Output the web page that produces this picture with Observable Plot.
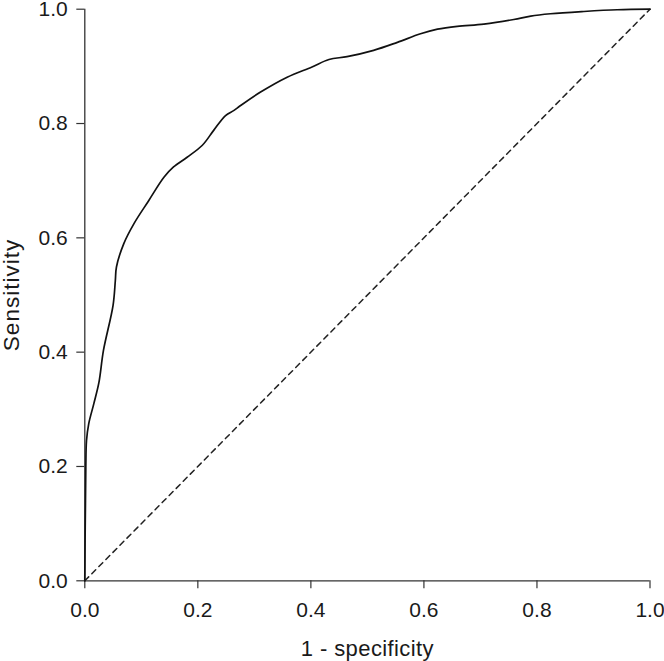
<!DOCTYPE html>
<html>
<head>
<meta charset="utf-8">
<script src="https://cdn.jsdelivr.net/npm/d3@7"></script>
<script src="https://cdn.jsdelivr.net/npm/@observablehq/plot@0.6"></script>
<style>
  html, body { margin: 0; padding: 0; background: #fff; }
  #chart svg { display: block; overflow: visible; }
  #chart g[aria-label="x-axis label"] text { font-size: 22px; letter-spacing: 0.4px; }
  #chart g[aria-label="y-axis label"] text { font-size: 22.5px; letter-spacing: 1px; }
</style>
</head>
<body>
<div id="chart"></div>
<script>
// ROC curve: 1 - specificity (x) vs sensitivity (y)
const fpr = [0, 0.0005, 0.0012, 0.0018, 0.003, 0.007, 0.016, 0.025, 0.033, 0.050, 0.054, 0.056,
  0.069, 0.087, 0.113, 0.140, 0.157, 0.181, 0.208, 0.228, 0.249, 0.264, 0.275, 0.311, 0.358,
  0.402, 0.432, 0.464, 0.511, 0.553, 0.594, 0.624, 0.659, 0.706, 0.759, 0.789, 0.824, 0.883,
  0.942, 1.0];
const tpr = [0, 0.07, 0.14, 0.199, 0.245, 0.275, 0.310, 0.347, 0.403, 0.482, 0.525, 0.549,
  0.590, 0.625, 0.665, 0.706, 0.724, 0.741, 0.762, 0.788, 0.814, 0.823, 0.831, 0.855, 0.881,
  0.899, 0.912, 0.917, 0.928, 0.942, 0.957, 0.965, 0.970, 0.974, 0.982, 0.988, 0.992, 0.996,
  0.999, 1.0];
const diagX = [0, 1];
const diagY = [0, 1];
const tickValues = [0, 0.2, 0.4, 0.6, 0.8, 1.0];
const xLabel = "1 - specificity";
const yLabel = "Sensitivity";

const roc = fpr.map((x, i) => ({x, y: tpr[i]}));
const diag = diagX.map((x, i) => ({x, y: diagY[i]}));

const chart = Plot.plot({
  width: 664,
  height: 661,
  marginLeft: 84.3,
  marginRight: 14.5,
  marginTop: 8.7,
  marginBottom: 80.7,
  style: {fontFamily: "'Liberation Sans', Arial, Helvetica, sans-serif", fontSize: "21px", color: "#1a1a1a", background: "#fff", overflow: "visible"},
  x: {domain: [0, 1]},
  y: {domain: [0, 1]},
  marks: [
    Plot.axisX({ticks: tickValues, tickFormat: d3.format(".1f"), tickSize: 8, tickPadding: 13,
      label: xLabel, labelAnchor: "center", labelArrow: "none", labelOffset: 75, fontSize: 21, stroke: "#333", strokeWidth: 1.2}),
    Plot.axisY({ticks: tickValues, tickFormat: d3.format(".1f"), tickSize: 8, tickPadding: 9,
      label: yLabel, labelAnchor: "center", labelArrow: "none", labelOffset: 81.5, fontSize: 21, stroke: "#333", strokeWidth: 1.2}),
    Plot.ruleX([0], {stroke: "#333", strokeWidth: 1.3}),
    Plot.ruleY([0], {stroke: "#333", strokeWidth: 1.3}),
    Plot.line(diag, {x: "x", y: "y", stroke: "#222", strokeWidth: 1.5, strokeDasharray: "5.5,4.5"}),
    Plot.line(roc, {x: "x", y: "y", stroke: "#111", strokeWidth: 1.7, curve: "catmull-rom"})
  ]
});
document.getElementById("chart").appendChild(chart);
</script>
</body>
</html>
